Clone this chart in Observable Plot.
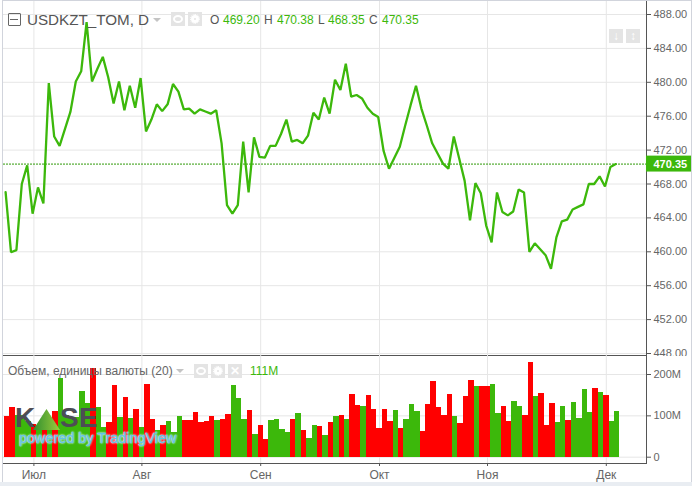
<!DOCTYPE html>
<html><head><meta charset="utf-8">
<script src="https://cdn.jsdelivr.net/npm/d3@7"></script>
<script src="https://cdn.jsdelivr.net/npm/@observablehq/plot@0.6"></script>
<style>
html,body{margin:0;padding:0;background:#fff}
#chart{position:relative;width:692px;height:486px;overflow:hidden;font-family:"Liberation Sans",Arial,sans-serif;background:#fff}
#chart svg{display:block;position:absolute;left:0;background:transparent}
.t{position:absolute;white-space:nowrap;line-height:1}
.btn{position:absolute;background:#e4e4e4;width:14px;height:14px;color:#fff;font-size:12px;text-align:center;line-height:14px;font-weight:bold}
.bar{position:absolute;background:#d1d4dc}
.caret{position:absolute;width:0;height:0;border-left:4px solid transparent;border-right:4px solid transparent;border-top:4px solid #c4c4c4}
.eye::after,.gear::after{content:"";position:absolute;box-sizing:border-box;border-radius:50%}
.eye::after{left:2px;top:3px;width:10px;height:8px;border:2px solid #fff}
.gear::after{left:3px;top:3px;width:8px;height:8px;border:3px solid #fff;outline:1px dotted #fff}
</style></head><body><div id="chart"></div>
<script>
const closes=[467.03,459.95,460.2,468.0,470.2,464.5,467.6,465.7,479.9,473.6,472.5,474.5,476.5,480.1,481.3,487.1,480.1,481.6,483.0,480.6,477.5,480.1,476.7,479.6,477.0,480.5,474.2,475.6,477.4,476.6,477.4,479.8,478.9,476.8,476.9,476.3,476.8,476.55,476.3,476.7,472.8,465.5,464.5,465.5,473.0,467.0,473.5,471.2,471.1,472.5,472.5,473.9,475.6,473.0,473.2,472.8,473.7,476.4,475.6,478.2,476.3,480.3,479.1,482.2,478.3,478.5,478.1,477.0,476.3,475.9,471.9,469.8,471.1,472.4,474.9,477.3,479.6,476.9,474.9,472.8,471.6,470.4,469.8,473.6,471.0,468.4,463.7,468.1,466.9,463.1,461.1,467.0,464.7,464.3,464.75,467.35,467.0,460.0,461.0,460.3,459.6,458.0,461.7,463.6,463.8,465.0,465.3,465.6,468.0,468.0,468.9,467.7,470.0,470.35];
const volumes=[99,121,101,101,87,79,65,87,77,111,191,101,97,97,160,130,215,121,72,84,174,96,145,94,116,72,177,91,65,77,87,60,99,89,89,109,84,87,99,89,
91,104,174,143,91,113,55,77,43,89,91,67,60,91,106,65,45,77,74,53,84,99,101,91,152,126,123,150,116,70,116,87,113,70,91,128,111,62,128,184,121,
101,152,99,82,147,186,172,172,172,177,106,123,87,135,123,101,230,147,155,77,130,84,123,89,133,94,164,109,167,157,150,87,111];
const directions="rrgggrgrgrggggggrggrrgrgrgrrgrgggrrrrrrg"+"rrgggrgrrggggrgrggrgrgrgrrgrrrrrgrgggrrrr"+"rrgrrrgrrggrrggrrgrrrggrggggrgrgg";
const priceTicks=[448,452,456,460,464,468,472,476,480,484,488];
const volumeTicks=[0,100,200];
const monthTicks=[5,25,47,69,89,111];
const monthNames=["Июл","Авг","Сен","Окт","Ноя","Дек"];
const last=470.35;

const GREEN="#3cb80b", RED="#ff0000", GRID="#e6e6e6", AXIS="#555", TEXT="#666";
const xScale={domain:[0,113],range:[6.4,616.6],axis:null};
const baseStyle={fontFamily:"'Liberation Sans',Arial,sans-serif",fontSize:"11px",background:"transparent"};
const index=closes.map((_,i)=>i);

const price=Plot.plot({
  width:692,height:356,marginLeft:3,marginRight:46,marginTop:0,marginBottom:1,
  style:baseStyle,
  x:xScale,
  y:{domain:[448,488],range:[353,14],axis:null},
  marks:[
    Plot.ruleX(monthTicks,{stroke:GRID}),
    Plot.ruleY(priceTicks,{stroke:GRID}),
    Plot.ruleY([last],{stroke:"#2f9a08",strokeDasharray:"2,1"}),
    Plot.line(index,{x:i=>i,y:i=>closes[i],stroke:GREEN,strokeWidth:2.3,strokeLinejoin:"miter",dx:-1.3}),
    Plot.axisY({anchor:"right",ticks:priceTicks,tickFormat:d=>d.toFixed(2),tickSize:4,tickPadding:3,stroke:AXIS,color:TEXT,fontSize:11}),
    Plot.frame({anchor:"right",stroke:AXIS}),
    Plot.frame({anchor:"bottom",stroke:AXIS}),
    Plot.rect([last],{x1:()=>118.44,x2:()=>126.78,y1:d=>d-0.94,y2:d=>d+0.94,fill:GREEN}),
    Plot.text([last],{x:()=>119.74,y:d=>d,text:d=>d.toFixed(2),textAnchor:"start",fill:"#fff",fontWeight:"bold",fontSize:11})
  ]
});
price.style.top="0px";

const volume=Plot.plot({
  width:692,height:131,marginLeft:3,marginRight:46,marginTop:0,marginBottom:23,
  style:baseStyle,
  x:xScale,
  y:{domain:[0,200],range:[101.7,19],axis:null},
  marks:[
    Plot.ruleX(monthTicks,{stroke:GRID}),
    Plot.ruleY(volumeTicks,{stroke:GRID}),
    Plot.rectY(index,{x1:i=>i-0.5,x2:i=>i+0.5,y1:()=>0,y2:i=>volumes[i],fill:i=>directions[i]==="r"?RED:GREEN,shapeRendering:"crispEdges"}),
    Plot.axisY({anchor:"right",ticks:volumeTicks,tickFormat:d=>d?d+"M":"0",tickSize:4,tickPadding:3,stroke:AXIS,color:TEXT,fontSize:11}),
    Plot.axisX({anchor:"bottom",ticks:monthTicks,tickFormat:d=>monthNames[monthTicks.indexOf(d)],tickSize:3,tickPadding:4,stroke:AXIS,color:TEXT,fontSize:12}),
    Plot.frame({anchor:"right",stroke:AXIS}),
    Plot.frame({anchor:"bottom",stroke:AXIS})
  ]
});
volume.style.top="355px";

const root=document.getElementById("chart");
root.append(price,volume);
function add(html,css,cls="t"){const e=document.createElement("div");e.className=cls;e.style.cssText=css;e.innerHTML=html;root.append(e);return e;}
// frame
add("","left:2px;top:0;width:1px;height:482px","bar");
add("","left:2px;top:0;width:690px;height:1px","bar");
add("","left:691px;top:0;width:1px;height:482px","bar");
add("","left:0;top:482px;width:692px;height:4px;background:#e9edf2","bar");
// header
add("","left:8px;top:13px;width:11px;height:11px;border:1px solid #666;border-radius:1px","t");
add("","left:10px;top:19px;width:8px;height:1px;background:#666","t");
add("USDKZT_TOM, D","left:27px;top:12px;font-size:15.2px;color:#555");
add("","left:153px;top:18px","caret");
add("","left:171px;top:12px","btn eye");
add("","left:188px;top:12px","btn gear");
const ohlc=[["O",210,"469.20",223],["H",264,"470.38",277],["L",318,"468.35",328],["C",369,"470.35",382]];
for(const [k,kx,v,vx] of ohlc){
  add(k,`left:${kx}px;top:14px;font-size:12px;color:#555`);
  add(v,`left:${vx}px;top:14px;font-size:12px;color:${GREEN}`);
}
add("↓","left:609px;top:29px","btn");
add("↕","left:626px;top:29px","btn");
// volume header
add("Объем, единицы валюты (20)","left:8px;top:365px;font-size:12px;color:#666");
add("","left:176px;top:369px","caret");
add("","left:194px;top:364px","btn eye");
add("","left:211px;top:364px","btn gear");
add("✕","left:228px;top:364px","btn");
add("111M","left:250px;top:365px;font-size:12px;color:"+GREEN);
// logo
const dark="#4d4d55";
add("K","left:15px;top:404px;font-size:28px;font-weight:bold;color:"+dark);
add("","left:33px;top:409px;width:27px;height:21px;background:linear-gradient(90deg,#2f8f2f,#9ccc3c);clip-path:polygon(50% 0,100% 100%,0 100%)","t");
add("S","left:60px;top:404px;font-size:28px;font-weight:bold;color:"+dark);
add("E","left:79px;top:404px;font-size:28px;font-weight:bold;color:"+dark);
add("powered by TradingView","left:19px;top:431px;font-size:14.4px;-webkit-text-stroke:.3px #62c3e6;color:#62c3e6;text-shadow:0 0 2px rgba(255,255,255,.9),0 0 2px rgba(255,255,255,.9)");
</script>
</body></html>
